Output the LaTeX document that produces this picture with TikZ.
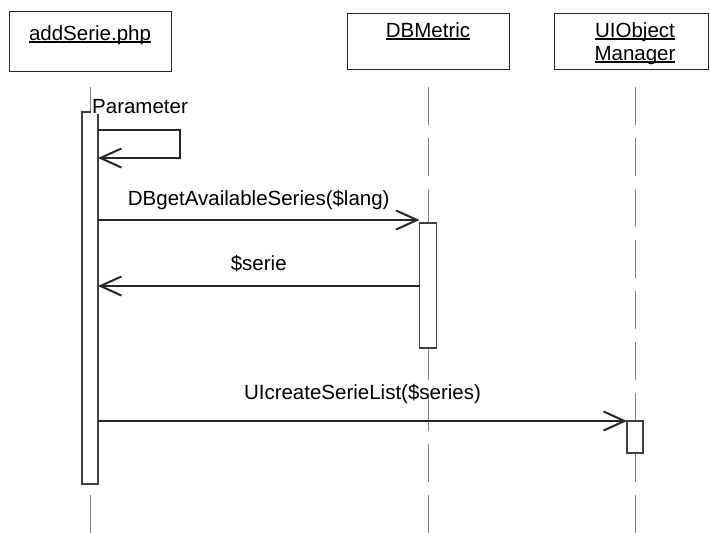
\documentclass[tikz,border=0pt]{standalone}
\usepackage{fontspec}
\setmainfont{Liberation Sans}
\usetikzlibrary{arrows.meta}
\newsavebox\ulbox
\newcommand\uln[1]{\sbox\ulbox{#1}\rlap{\rule[-2.6pt]{\wd\ulbox}{1.3pt}}\usebox\ulbox}
\tikzset{
  head/.style={draw=black!85, line width=0.9pt, fill=white},
  life/.style={draw=black!50, line width=1pt, dash pattern=on 38pt off 13pt},
  act/.style={draw=black!75, line width=1.1pt, fill=white, inner sep=0pt, outer sep=0pt},
  msg/.style={draw=black!85, line width=1.4pt, -{Straight Barb[length=21pt,width=19pt,line width=2pt]}},
  lbl/.style={font=\fontsize{20.5}{23}\selectfont, inner sep=1pt, text=black},
}

\begin{document}
\begin{tikzpicture}[x=1pt,y=-1pt]
			%%%%% START %%%%%
			\def\xa{90}
			\def\xb{428}
			\def\xc{635}
			\def\ytop{87}
			\def\ybot{533}
			\def\yone{220}
			\def\ytwo{286}
			\def\ythree{421}
			\useasboundingbox (0,0) rectangle (710,533);

			\draw[life] (\xa,\ytop) -- (\xa,\ybot);
			\draw[life] (\xb,\ytop) -- (\xb,\ybot);
			\draw[life] (\xc,\ytop) -- (\xc,\ybot);

			\draw[head] (9,11) rectangle (171,71);
			\node[lbl, anchor=base] (addserie) at (\xa,40) {\uln{addSerie.php}};
			\draw[head] (347,13) rectangle (509,69);
			\node[lbl, anchor=base] (dbmetric) at (\xb,37) {\uln{DBMetric}};
			\draw[head] (554,13) rectangle (708,69);
			\node[lbl, anchor=base, align=center] (uiobject) at (\xc,60) {\uln{UIObject}\\\uln{Manager}};

			\node[act, minimum width=16pt, minimum height=372pt] (actA) at (\xa,298) {};
			\node[act, minimum width=17pt, minimum height=125pt] (actB) at (\xb,285.5) {};
			\node[act, minimum width=16pt, minimum height=32pt] (actC) at (\xc,437) {};

			\node[lbl, fill=white, anchor=base west] (param) at (91,113) {Parameter};
			\draw[msg] (actA.east |- 0,130) -| (180,158) -- (actA.east |- 0,158);

			\draw[msg] (actA.east |- 0,\yone) -- (actB.west |- 0,\yone)
				node[lbl, midway, anchor=base, yshift=15pt] (dbget) {DBgetAvailableSeries(\$lang)};
			\draw[msg] (actB.west |- 0,\ytwo) -- (actA.east |- 0,\ytwo)
				node[lbl, midway, anchor=base, yshift=16pt] (serie) {\$serie};
			\draw[msg] (actA.east |- 0,\ythree) -- (actC.north west)
				node[lbl, midway, anchor=base, yshift=22pt] (uicreate) {UIcreateSerieList(\$series)};
			%%%%% END %%%%%
		\end{tikzpicture}
\end{document}
